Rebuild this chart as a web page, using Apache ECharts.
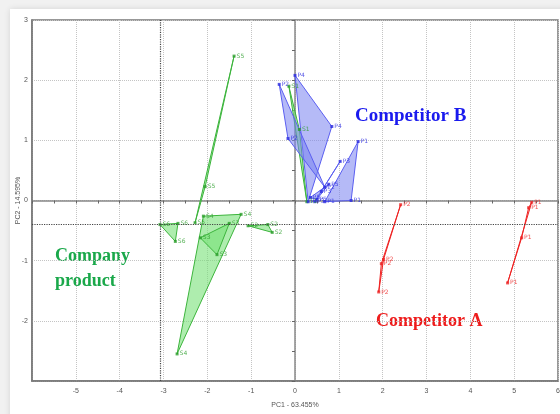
<!DOCTYPE html>
<html>
<head>
<meta charset="utf-8">
<script src="https://cdn.jsdelivr.net/npm/echarts@6/dist/echarts.min.js"></script>
<style>
html,body{margin:0;padding:0;background:#f1f1f1;overflow:hidden;}
.card{position:absolute;left:10px;top:9px;width:570px;height:420px;background:#fff;box-shadow:0 0 6px rgba(0,0,0,0.12);}
#chart{position:absolute;left:0;top:0;width:560px;height:414px;}
</style>
</head>
<body>
<div class="card"></div>
<div id="chart"></div>
<script>
// PCA scores, one triangle (or line) per sample
var greenNames = ['S5', 'S6', 'S4', 'S3', 'S2', 'S1'];
var greenGroups = [
  [[-1.39, 2.40], [-2.05, 0.23], [-2.28, -0.37]],
  [[-3.08, -0.40], [-2.67, -0.38], [-2.73, -0.68]],
  [[-2.09, -0.26], [-1.23, -0.23], [-2.69, -2.55]],
  [[-2.16, -0.62], [-1.78, -0.90], [-1.50, -0.38]],
  [[-1.07, -0.42], [-0.62, -0.40], [-0.52, -0.53]],
  [[-0.14, 1.90], [0.10, 1.18], [0.27, -0.02]]
];
var blueNames = ['P4', 'P2', 'P1', 'P3', 'P5'];
var blueGroups = [
  [[0.00, 2.08], [0.84, 1.23], [0.30, -0.02]],
  [[-0.36, 1.93], [-0.16, 1.03], [0.68, 0.22]],
  [[1.44, 0.98], [1.28, 0.00], [0.68, -0.02]],
  [[1.03, 0.65], [0.45, -0.02], [0.60, 0.15]],
  [[0.77, 0.27], [0.50, 0.02], [0.35, 0.05]]
];
var redNames = ['P2', 'P1'];
var redGroups = [
  [[2.41, -0.07], [2.02, -0.98], [1.91, -1.52], [1.97, -1.05]],
  [[5.40, -0.03], [5.33, -0.12], [5.17, -0.62], [4.85, -1.37]]
];
var refX = -3.08;
var refY = -0.40;

function hullSeries(groups, stroke, fill) {
  return {
    type: 'custom',
    silent: true,
    data: groups.map(function (g, i) { return [g[0][0], g[0][1], i]; }),
    renderItem: function (params, api) {
      var pts = groups[params.dataIndex].map(function (p) { return api.coord(p); });
      return {
        type: 'polygon',
        shape: {points: pts},
        style: {fill: fill, stroke: stroke, lineWidth: 1}
      };
    },
    z: 3
  };
}

function pointSeries(groups, names, color) {
  var d = [];
  groups.forEach(function (g, i) {
    g.forEach(function (p) { d.push({value: p, name: names[i]}); });
  });
  return {
    type: 'scatter',
    silent: true,
    data: d,
    symbol: 'rect',
    symbolSize: 3,
    itemStyle: {color: color},
    label: {show: true, formatter: '{b}', position: 'right', distance: 1,
      fontSize: 6, color: color, fontFamily: 'DejaVu Sans'},
    z: 4
  };
}

var tickFont = {fontSize: 7, color: '#555', fontFamily: 'Liberation Sans'};

var chart = echarts.init(document.getElementById('chart'));
var dots = pointSeries(greenGroups, greenNames, '#2a9e2a');
dots.markLine = {
  silent: true,
  symbol: 'none',
  label: {show: false},
  lineStyle: {type: 'dotted', color: '#444', width: 1.2},
  data: [{xAxis: refX}, {yAxis: refY}]
};

chart.setOption({
  animation: false,
  grid: {left: 32, right: 2, top: 20, bottom: 33, show: true,
    outerBoundsMode: 'none',
    borderColor: '#777', borderWidth: 1.5},
  xAxis: [
    {type: 'value', min: -6, max: 6, interval: 1, position: 'bottom',
      axisLine: {onZero: false, lineStyle: {color: '#777', width: 1.5}},
      axisTick: {show: false},
      axisLabel: Object.assign({margin: 7, showMinLabel: false}, tickFont),
      splitLine: {show: true, lineStyle: {type: 'dotted', color: '#c4c4c4'}},
      name: 'PC1 - 63.455%', nameLocation: 'middle', nameGap: 21,
      nameTextStyle: tickFont},
    {type: 'value', min: -6, max: 6, interval: 0.5, position: 'bottom',
      axisLine: {onZero: true, onZeroAxisIndex: 0, lineStyle: {color: '#888', width: 1.5}},
      axisTick: {show: true, length: 3, lineStyle: {color: '#666'}},
      axisLabel: {show: false}, splitLine: {show: false}}
  ],
  yAxis: [
    {type: 'value', min: -3, max: 3, interval: 1, position: 'left',
      axisLine: {onZero: false, lineStyle: {color: '#777', width: 1.5}},
      axisTick: {show: false},
      axisLabel: Object.assign({margin: 4, showMinLabel: false}, tickFont),
      splitLine: {show: true, lineStyle: {type: 'dotted', color: '#c4c4c4'}},
      name: 'PC2 - 14.595%', nameLocation: 'middle', nameGap: 10,
      nameMoveOverlap: false,
      nameTextStyle: tickFont},
    {type: 'value', min: -3, max: 3, interval: 0.5, position: 'left',
      axisLine: {onZero: true, onZeroAxisIndex: 0, lineStyle: {color: '#888', width: 1.5}},
      axisTick: {show: true, length: 3, lineStyle: {color: '#666'}},
      axisLabel: {show: false}, splitLine: {show: false}}
  ],
  series: [
    hullSeries(greenGroups, '#3cb43c', 'rgba(120,225,120,0.6)'),
    hullSeries(blueGroups, '#5a5ef0', 'rgba(120,130,240,0.55)'),
    hullSeries(redGroups, '#ee2222', 'rgba(255,120,120,0.3)'),
    dots,
    pointSeries(blueGroups, blueNames, '#2a2ae0'),
    pointSeries(redGroups, redNames, '#ee2222')
  ],
  graphic: [
    {type: 'text', left: 355, top: 107, style: {text: 'Competitor B', fill: '#1a1aee',
      font: 'bold 19px "Liberation Serif"'}},
    {type: 'text', left: 55, top: 244, style: {text: 'Company\nproduct', fill: '#1aa84a',
      font: 'bold 18px "Liberation Serif"', lineHeight: 25}},
    {type: 'text', left: 376, top: 312, style: {text: 'Competitor A', fill: '#ee1c1c',
      font: 'bold 18px "Liberation Serif"'}}
  ]
});
</script>
</body>
</html>
